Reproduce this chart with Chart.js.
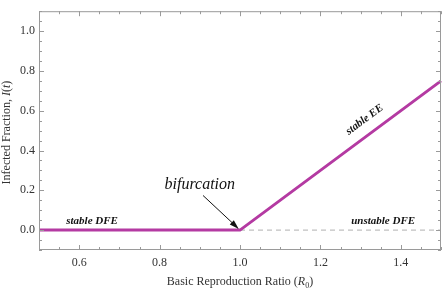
<!DOCTYPE html>
<html>
<head>
<meta charset="utf-8">
<script src="https://cdn.jsdelivr.net/npm/chart.js@4.4.1/dist/chart.umd.min.js"></script>
<style>
  html, body { margin: 0; padding: 0; background: #fff; }
  #wrap { width: 443px; height: 291px; }
</style>
</head>
<body>
<div id="wrap"><canvas id="chart" width="443" height="291"></canvas></div>
<script>
// R0 values and infected fraction along the stable branch
const r0Values = [0.5, 1.0, 1.5];
const infected = [0, 0, 0.75];
// unstable disease-free branch
const unstableR0 = [1.0, 1.5];
const unstableI = [0, 0];

const xTicks = [0.6, 0.8, 1.0, 1.2, 1.4];
const yTicks = [0.0, 0.2, 0.4, 0.6, 0.8, 1.0];

const SERIF = '"Liberation Serif", "DejaVu Serif", serif';
const LINE = '#b43aa2';

const toPts = (xs, ys) => xs.map((x, i) => ({ x: x, y: ys[i] }));

const decor = {
  id: 'decor',
  afterDraw(chart) {
    const ctx = chart.ctx;
    const a = chart.chartArea;
    const sx = chart.scales.x, sy = chart.scales.y;
    ctx.save();

    // frame
    ctx.strokeStyle = '#9a9a9a';
    ctx.lineWidth = 1;
    ctx.strokeRect(a.left + 0.5, a.top + 0.5, a.right - a.left - 1, a.bottom - a.top - 1);

    // inward ticks on all sides
    ctx.beginPath();
    for (let v = 0.5; v <= 1.5001; v += 0.05) {
      const major = Math.abs(v * 5 - Math.round(v * 5)) < 1e-6;
      const len = major ? 5 : 3;
      const px = Math.round(sx.getPixelForValue(v)) + 0.5;
      ctx.moveTo(px, a.bottom); ctx.lineTo(px, a.bottom - len);
      ctx.moveTo(px, a.top); ctx.lineTo(px, a.top + len);
    }
    for (let v = -0.1; v <= 1.1001; v += 0.05) {
      const major = Math.abs(v * 5 - Math.round(v * 5)) < 1e-6;
      const len = major ? 5 : 3;
      const py = Math.round(sy.getPixelForValue(v)) + 0.5;
      ctx.moveTo(a.left, py); ctx.lineTo(a.left + len, py);
      ctx.moveTo(a.right, py); ctx.lineTo(a.right - len, py);
    }
    ctx.stroke();

    // labels in the plot
    ctx.fillStyle = '#111';
    ctx.textAlign = 'center';
    ctx.textBaseline = 'middle';
    ctx.font = 'italic bold 11px ' + SERIF;
    ctx.fillText('stable DFE', sx.getPixelForValue(0.632), sy.getPixelForValue(0.045));
    ctx.fillText('unstable DFE', sx.getPixelForValue(1.356), sy.getPixelForValue(0.045));

    // stable EE along the line
    const x1 = sx.getPixelForValue(1.0), y1 = sy.getPixelForValue(0);
    const x2 = sx.getPixelForValue(1.5), y2 = sy.getPixelForValue(0.75);
    const ang = Math.atan2(y2 - y1, x2 - x1);
    ctx.save();
    ctx.translate(sx.getPixelForValue(1.31), sy.getPixelForValue(0.555));
    ctx.rotate(ang);
    ctx.fillText('stable EE', 0, 0);
    ctx.restore();

    // bifurcation + arrow
    ctx.font = 'italic 16px ' + SERIF;
    ctx.fillText('bifurcation', sx.getPixelForValue(0.90), sy.getPixelForValue(0.227));
    const ax = sx.getPixelForValue(0.908), ay = sy.getPixelForValue(0.174);
    const bx = sx.getPixelForValue(0.997), by = sy.getPixelForValue(0.006);
    const th = Math.atan2(by - ay, bx - ax);
    ctx.strokeStyle = '#111';
    ctx.lineWidth = 1;
    ctx.beginPath();
    ctx.moveTo(ax, ay);
    ctx.lineTo(bx - 6 * Math.cos(th), by - 6 * Math.sin(th));
    ctx.stroke();
    ctx.beginPath();
    ctx.moveTo(bx, by);
    ctx.lineTo(bx - 10 * Math.cos(th - 0.3), by - 10 * Math.sin(th - 0.3));
    ctx.lineTo(bx - 10 * Math.cos(th + 0.3), by - 10 * Math.sin(th + 0.3));
    ctx.closePath();
    ctx.fill();

    // axis titles
    ctx.fillStyle = '#333';
    ctx.textBaseline = 'alphabetic';
    ctx.textAlign = 'left';
    const partsX = [['Basic Reproduction Ratio (', '12px '], ['R', 'italic 12px '], ['0', '8px '], [')', '12px ']];
    let w = 0;
    partsX.forEach(p => { ctx.font = p[1] + SERIF; w += ctx.measureText(p[0]).width; });
    let cx = (a.left + a.right) / 2 - w / 2;
    const ty = 285;
    partsX.forEach(p => {
      ctx.font = p[1] + SERIF;
      ctx.fillText(p[0], cx, p[0] === '0' ? ty + 3 : ty);
      cx += ctx.measureText(p[0]).width;
    });

    ctx.save();
    ctx.translate(10, (a.top + a.bottom) / 2 + 2);
    ctx.rotate(-Math.PI / 2);
    const partsY = [['Infected Fraction, ', '12px '], ['I', 'italic 12px '], ['(', '12px '], ['t', 'italic 12px '], [')', '12px ']];
    w = 0;
    partsY.forEach(p => { ctx.font = p[1] + SERIF; w += ctx.measureText(p[0]).width; });
    cx = -w / 2;
    partsY.forEach(p => {
      ctx.font = p[1] + SERIF;
      ctx.fillText(p[0], cx, 0);
      cx += ctx.measureText(p[0]).width;
    });
    ctx.restore();

    ctx.restore();
  }
};

new Chart(document.getElementById('chart'), {
  type: 'line',
  data: {
    datasets: [
      {
        data: toPts(unstableR0, unstableI),
        borderColor: '#b0b0b0',
        borderWidth: 1,
        borderDash: [5, 4],
        pointRadius: 0,
        order: 2
      },
      {
        data: toPts(r0Values, infected),
        borderColor: LINE,
        borderWidth: 3,
        pointRadius: 0,
        borderCapStyle: 'butt',
        clip: false,
        order: 1
      }
    ]
  },
  options: {
    responsive: false,
    animation: false,
    devicePixelRatio: 1,
    layout: { padding: { left: 0, top: 2, right: 2, bottom: 0 } },
    plugins: { legend: { display: false }, tooltip: { enabled: false } },
    scales: {
      x: {
        type: 'linear',
        min: 0.5,
        max: 1.5,
        afterBuildTicks: s => { s.ticks = xTicks.map(v => ({ value: v })); },
        afterFit: s => { s.height = 41; },
        grid: { display: false, drawTicks: false },
        border: { display: false },
        ticks: {
          padding: 6,
          color: '#333',
          font: { family: SERIF, size: 12 },
          maxRotation: 0,
          callback: v => Number(v).toFixed(1)
        }
      },
      y: {
        type: 'linear',
        min: -0.1,
        max: 1.1,
        afterBuildTicks: s => { s.ticks = yTicks.map(v => ({ value: v })); },
        afterFit: s => { s.width = 39; },
        grid: { display: false, drawTicks: false },
        border: { display: false },
        ticks: {
          padding: 4,
          color: '#333',
          font: { family: SERIF, size: 12 },
          callback: v => Number(v).toFixed(1)
        }
      }
    }
  },
  plugins: [decor]
});
</script>
</body>
</html>
